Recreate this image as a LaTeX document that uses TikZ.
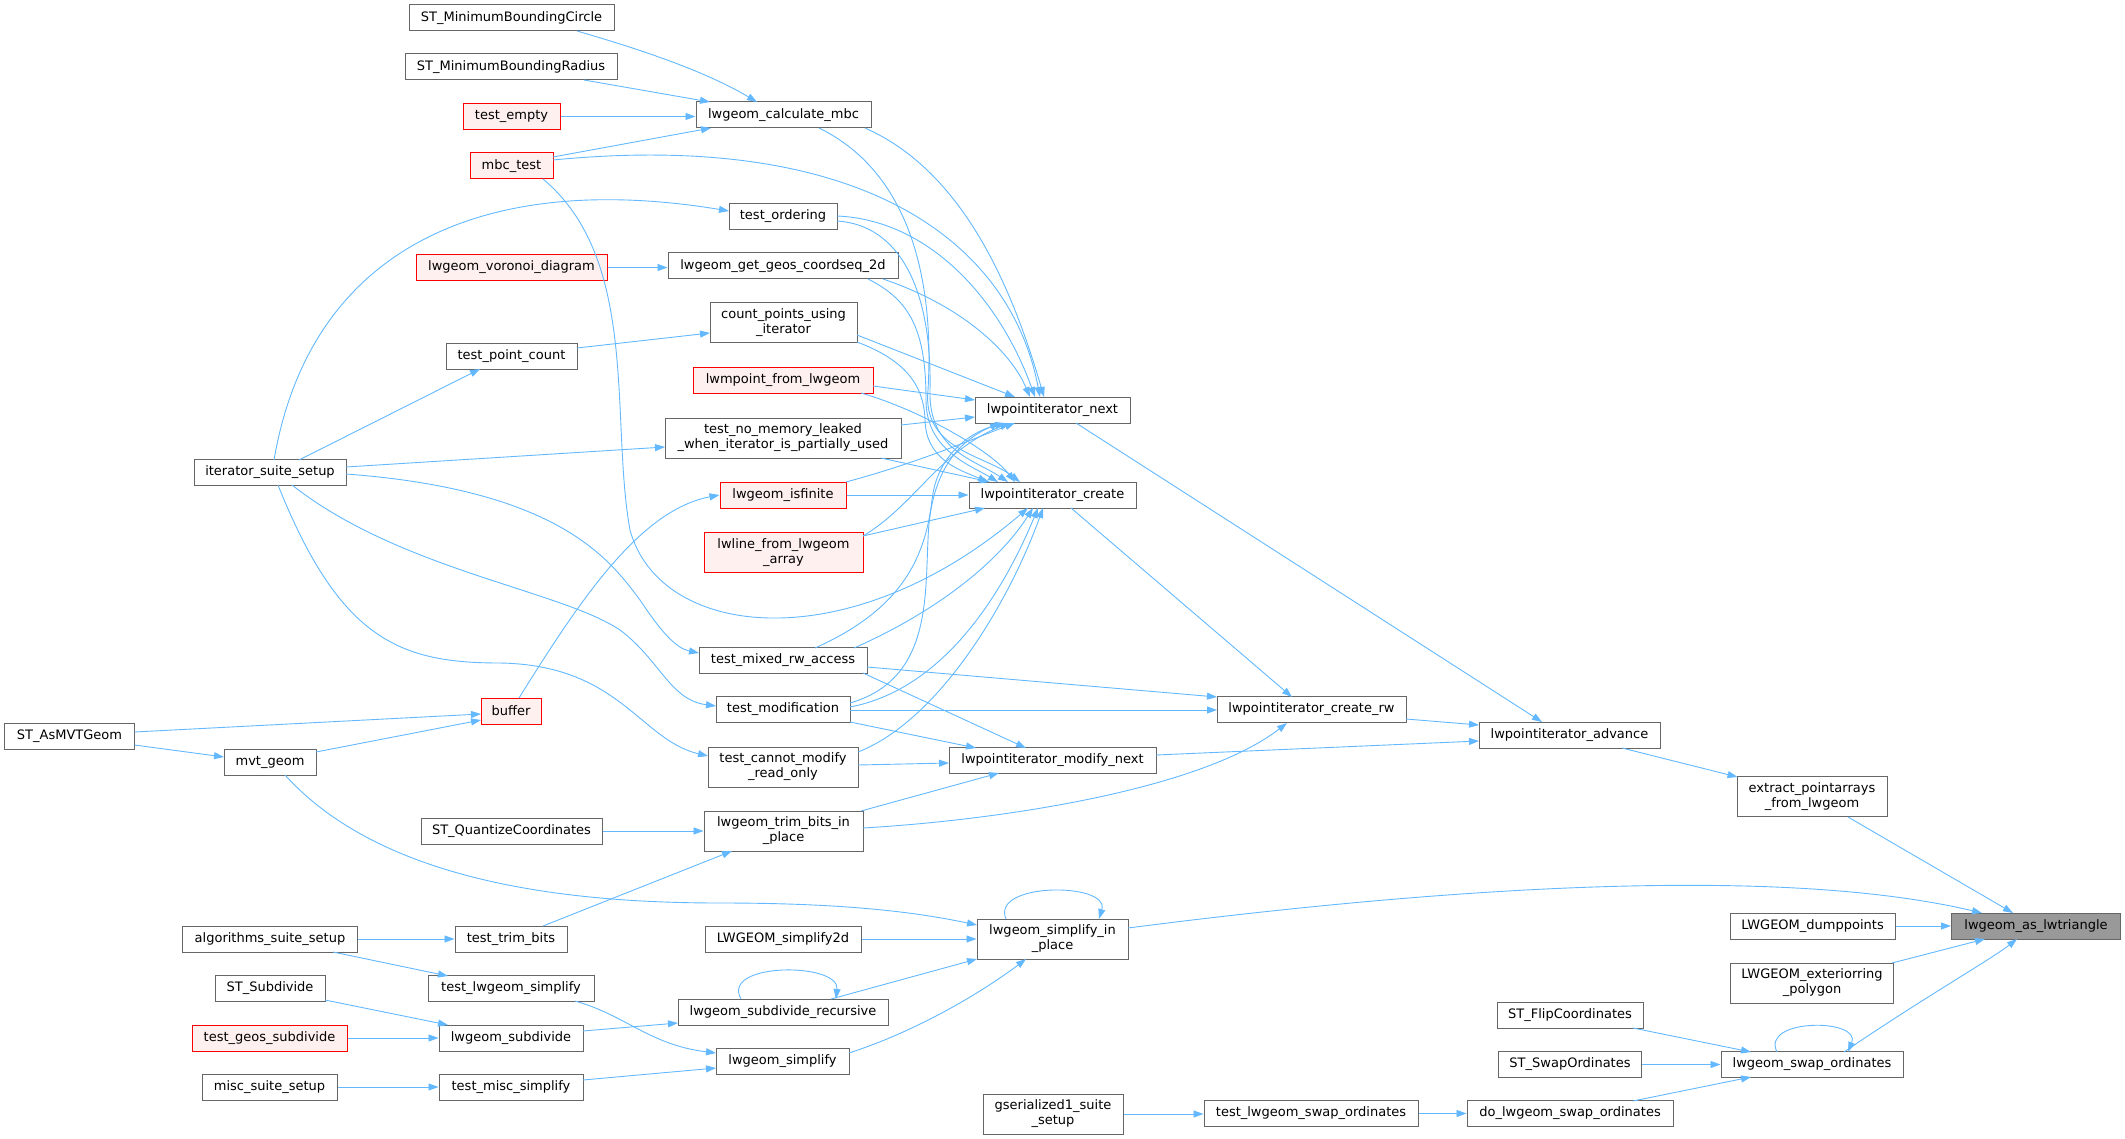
\documentclass[tikz,border=0pt]{standalone}
\usepackage{fontspec}
\setmainfont{DejaVu Sans}
\usetikzlibrary{arrows.meta}
\definecolor{edgeblue}{HTML}{63B8FF}
\definecolor{boxgray}{HTML}{666666}
\definecolor{redfill}{HTML}{FFF0F0}
\definecolor{hlfill}{HTML}{999999}
\begin{document}
\begin{tikzpicture}[x=1pt,y=-1pt,
  box/.style={draw=boxgray, fill=white, line width=1pt, inner sep=0pt, align=center,
    font=\fontsize{13}{15}\selectfont, minimum height=26pt},
  tall/.style={minimum height=40pt},
  redbox/.style={box, draw=red, fill=redfill},
  hlbox/.style={box, fill=hlfill},
  conn/.style={draw=edgeblue, line width=0.9pt, -{Triangle[length=10pt,width=7pt]}}]
\useasboundingbox (0,0) rectangle (2125,1139);
% column 1
\node[box, minimum width=130pt] (asmvt) at (69.5,736.5) {ST\_AsMVTGeom};
% column 2
\node[box, minimum width=152pt] (itersuite) at (270,472.5) {iterator\_suite\_setup};
\node[box, minimum width=92pt] (mvtgeom) at (270,762) {mvt\_geom};
\node[box, minimum width=175pt] (algsuite) at (270,939) {algorithms\_suite\_setup};
\node[box, minimum width=110pt] (stsubdivide) at (270,988.5) {ST\_Subdivide};
\node[redbox, minimum width=155pt] (geossubdiv) at (269.5,1038) {test\_geos\_subdivide};
\node[box, minimum width=135pt] (miscsuite) at (269.5,1087) {misc\_suite\_setup};
% column 3
\node[box, minimum width=205pt] (mbcircle) at (511.5,18) {ST\_MinimumBoundingCircle};
\node[box, minimum width=212pt] (mbradius) at (511,67) {ST\_MinimumBoundingRadius};
\node[redbox, minimum width=97pt] (testempty) at (511.5,116.5) {test\_empty};
\node[redbox, minimum width=83pt] (mbctest) at (511.5,166) {mbc\_test};
\node[redbox, minimum width=191pt] (voronoi) at (511.5,267.5) {lwgeom\_voronoi\_diagram};
\node[box, minimum width=131pt] (testpointcount) at (511.5,356.5) {test\_point\_count};
\node[redbox, minimum width=60pt] (buffer) at (511,711) {buffer};
\node[box, minimum width=181pt] (quantize) at (511.5,831) {ST\_QuantizeCoordinates};
\node[box, minimum width=112pt] (testtrimbits) at (511,939) {test\_trim\_bits};
\node[box, minimum width=166pt] (testlwsimplify) at (511,988.5) {test\_lwgeom\_simplify};
\node[box, minimum width=144pt] (lwsubdivide) at (511,1038) {lwgeom\_subdivide};
\node[box, minimum width=144pt] (testmisc) at (511,1087) {test\_misc\_simplify};
% column 4
\node[box, minimum width=175pt] (calcmbc) at (783.5,115) {lwgeom\_calculate\_mbc};
\node[box, minimum width=108pt] (testordering) at (783,216.5) {test\_ordering};
\node[box, minimum width=230pt] (coordseq) at (783,266) {lwgeom\_get\_geos\_coordseq\_2d};
\node[box, tall, minimum width=147pt] (countpoints) at (783.5,323) {count\_points\_using\\\_iterator};
\node[redbox, minimum width=180pt] (lwmpoint) at (783,380.5) {lwmpoint\_from\_lwgeom};
\node[box, tall, minimum width=236pt] (nomem) at (783,438) {test\_no\_memory\_leaked\\\_when\_iterator\_is\_partially\_used};
\node[redbox, minimum width=126pt] (isfinite) at (783,495) {lwgeom\_isfinite};
\node[redbox, tall, minimum width=159pt] (lwline) at (783.5,552.5) {lwline\_from\_lwgeom\\\_array};
\node[box, minimum width=168pt] (mixed) at (783,660.5) {test\_mixed\_rw\_access};
\node[box, minimum width=134pt] (modification) at (783,709.5) {test\_modification};
\node[box, tall, minimum width=150pt] (cannot) at (783,767) {test\_cannot\_modify\\\_read\_only};
\node[box, tall, minimum width=159pt] (trimip) at (783.5,831) {lwgeom\_trim\_bits\_in\\\_place};
\node[box, minimum width=156pt] (simplify2d) at (783,939) {LWGEOM\_simplify2d};
\node[box, minimum width=210pt] (subdivrec) at (783,1012) {lwgeom\_subdivide\_recursive};
\node[box, minimum width=133pt] (lwsimplify) at (782.5,1061.5) {lwgeom\_simplify};
% column 5
\node[box, minimum width=155pt] (next) at (1052.5,410) {lwpointiterator\_next};
\node[box, minimum width=167pt] (create) at (1052.5,495) {lwpointiterator\_create};
\node[box, minimum width=207pt] (modifynext) at (1052.5,760.5) {lwpointiterator\_modify\_next};
\node[box, tall, minimum width=151pt] (simplifyip) at (1052.5,939) {lwgeom\_simplify\_in\\\_place};
\node[box, tall, minimum width=140pt] (gserialized) at (1053,1114) {gserialized1\_suite\\\_setup};
% column 6
\node[box, minimum width=189pt] (createrw) at (1311.5,709.5) {lwpointiterator\_create\_rw};
\node[box, minimum width=214pt] (testswap) at (1311,1113.5) {test\_lwgeom\_swap\_ordinates};
% column 7
\node[box, minimum width=181pt] (advance) at (1569.5,735) {lwpointiterator\_advance};
\node[box, minimum width=146pt] (flip) at (1570,1015) {ST\_FlipCoordinates};
\node[box, minimum width=143pt] (stswap) at (1570,1064.5) {ST\_SwapOrdinates};
\node[box, minimum width=206pt] (doswap) at (1570,1113.5) {do\_lwgeom\_swap\_ordinates};
% column 8
\node[box, tall, minimum width=150pt] (extract) at (1812,796.5) {extract\_pointarrays\\\_from\_lwgeom};
\node[box, minimum width=165pt] (dumppoints) at (1812.5,926) {LWGEOM\_dumppoints};
\node[box, tall, minimum width=163pt] (exterior) at (1812,983) {LWGEOM\_exteriorring\\\_polygon};
\node[box, minimum width=182pt] (swap) at (1812,1064.5) {lwgeom\_swap\_ordinates};
% column 9
\node[hlbox, minimum width=169pt] (triangle) at (2036,926) {lwgeom\_as\_lwtriangle};

% ---- edges ----
\draw[conn] ([shift={(65.5,13)}]mbcircle.center) .. controls (625,45) and (700,68) .. ([shift={(-26.5,-13)}]calcmbc.center);
\draw[conn] ([shift={(73,13)}]mbradius.center) -- ([shift={(-73.5,-13)}]calcmbc.center);
\draw[conn] (testempty.east) -- (calcmbc.west |- testempty.east);
\draw[conn] ([shift={(41.5,-9)}]mbctest.center) -- ([shift={(-72.5,13)}]calcmbc.center);
\draw[conn] ([shift={(41.5,-6)}]mbctest.center) .. controls (860,130) and (1010,240) .. ([shift={(-12.5,-13)}]next.center);
\draw[conn] ([shift={(31.5,13)}]mbctest.center) .. controls (640,260) and (610,420) .. (630,530) .. controls (660,640) and (850,660) .. ([shift={(-24.5,13)}]create.center);
\draw[conn] ([shift={(81.5,13)}]calcmbc.center) .. controls (960,170) and (1010,280) .. ([shift={(-8.5,-13)}]next.center);
\draw[conn] ([shift={(35.5,13)}]calcmbc.center) .. controls (905,170) and (935,270) .. (928,390) .. controls (922,450) and (985,455) .. ([shift={(-32.5,-13)}]create.center);
\draw[conn] ([shift={(4,-12.5)}]itersuite.center) .. controls (310,250) and (480,170) .. ([shift={(-54,-5.5)}]testordering.center);
\draw[conn] ([shift={(29,-12.5)}]itersuite.center) -- ([shift={(-31.5,12.5)}]testpointcount.center);
\draw[conn] ([shift={(76,-5.5)}]itersuite.center) -- ([shift={(-118,9)}]nomem.center);
\draw[conn] ([shift={(76,1.5)}]itersuite.center) .. controls (560,490) and (610,560) .. (640,600) .. controls (660,630) and (675,648) .. ([shift={(-84,-7.5)}]mixed.center);
\draw[conn] ([shift={(22,12.5)}]itersuite.center) .. controls (400,570) and (560,590) .. (620,630) .. controls (660,660) and (670,700) .. ([shift={(-67,-3.5)}]modification.center);
\draw[conn] ([shift={(8,12.5)}]itersuite.center) .. controls (340,640) and (400,663) .. (500,663) .. controls (620,665) and (640,740) .. ([shift={(-75,-11)}]cannot.center);
\draw[conn] ([shift={(54,-0.5)}]testordering.center) .. controls (930,220) and (1000,300) .. ([shift={(-17.5,-13)}]next.center);
\draw[conn] ([shift={(54,4.5)}]testordering.center) .. controls (900,225) and (932,290) .. (930,390) .. controls (928,450) and (975,460) .. ([shift={(-44.5,-13)}]create.center);
\draw[conn] (voronoi.east) -- (coordseq.west |- voronoi.east);
\draw[conn] ([shift={(100,13)}]coordseq.center) .. controls (960,305) and (1010,350) .. ([shift={(-22.5,-13)}]next.center);
\draw[conn] ([shift={(85,13)}]coordseq.center) .. controls (910,300) and (926,330) .. (926,400) .. controls (926,450) and (970,465) .. ([shift={(-54.5,-13)}]create.center);
\draw[conn] ([shift={(65.5,-8.5)}]testpointcount.center) -- ([shift={(-73.5,10)}]countpoints.center);
\draw[conn] ([shift={(73.5,12)}]countpoints.center) -- ([shift={(-37.5,-13)}]next.center);
\draw[conn] ([shift={(73.5,19)}]countpoints.center) .. controls (905,360) and (924,385) .. (925,420) .. controls (926,460) and (960,470) .. ([shift={(-64.5,-13)}]create.center);
\draw[conn] ([shift={(90,5.5)}]lwmpoint.center) -- ([shift={(-77.5,-10)}]next.center);
\draw[conn] ([shift={(78,12.5)}]lwmpoint.center) .. controls (920,410) and (990,450) .. ([shift={(-37.5,-13)}]create.center);
\draw[conn] ([shift={(118,-13)}]nomem.center) -- ([shift={(-77.5,7)}]next.center);
\draw[conn] ([shift={(98,20)}]nomem.center) -- ([shift={(-62.5,-13)}]create.center);
\draw[conn] ([shift={(63,-13)}]isfinite.center) .. controls (920,462) and (970,440) .. ([shift={(-37.5,13)}]next.center);
\draw[conn] (isfinite.east) -- (create.west);
\draw[conn] ([shift={(79.5,-16.5)}]lwline.center) .. controls (915,505) and (940,450) .. ([shift={(-42.5,13)}]next.center);
\draw[conn] ([shift={(79.5,-16.5)}]lwline.center) -- ([shift={(-67.5,13)}]create.center);
\draw[conn] ([shift={(32,-12.5)}]mixed.center) .. controls (900,610) and (925,560) .. (932,500) .. controls (937,455) and (970,432) .. ([shift={(-47.5,13)}]next.center);
\draw[conn] ([shift={(71,-12.5)}]mixed.center) .. controls (940,610) and (1000,560) .. ([shift={(-19.5,13)}]create.center);
\draw[conn] ([shift={(84,6.5)}]mixed.center) -- ([shift={(-94.5,-12.5)}]createrw.center);
\draw[conn] ([shift={(80,12.5)}]mixed.center) -- ([shift={(-26.5,-12.5)}]modifynext.center);
\draw[conn] ([shift={(67,-6.5)}]modification.center) .. controls (930,680) and (925,600) .. (928,540) .. controls (930,470) and (960,440) .. ([shift={(-52.5,13)}]next.center);
\draw[conn] ([shift={(67,-2.5)}]modification.center) .. controls (940,690) and (1000,600) .. ([shift={(-14.5,13)}]create.center);
\draw[conn] ([shift={(67,0.5)}]modification.center) -- ([shift={(-94.5,0.5)}]createrw.center);
\draw[conn] ([shift={(67,12.5)}]modification.center) -- ([shift={(-76.5,-12.5)}]modifynext.center);
\draw[conn] ([shift={(75,-15)}]cannot.center) .. controls (940,720) and (1010,600) .. ([shift={(-9.5,13)}]create.center);
\draw[conn] ([shift={(75,-2)}]cannot.center) -- ([shift={(-103.5,2.5)}]modifynext.center);
\draw[conn] ([shift={(8,-13)}]buffer.center) .. controls (580,600) and (640,510) .. (isfinite.west);
\draw[conn] ([shift={(65,-4.5)}]asmvt.center) -- ([shift={(-30,3)}]buffer.center);
\draw[conn] ([shift={(65,8.5)}]asmvt.center) -- ([shift={(-46,-5)}]mvtgeom.center);
\draw[conn] ([shift={(46,-10)}]mvtgeom.center) -- ([shift={(-30,9)}]buffer.center);
\draw[conn] ([shift={(15,13)}]mvtgeom.center) .. controls (380,880) and (560,903) .. (720,903) .. controls (850,903) and (920,913) .. ([shift={(-75.5,-14)}]simplifyip.center);
\draw[conn] ([shift={(18.5,13)}]create.center) -- ([shift={(-19.5,-12.5)}]createrw.center);
\draw[conn] ([shift={(23.5,13)}]next.center) -- ([shift={(-27.5,-13)}]advance.center);
\draw[conn] ([shift={(94.5,9.5)}]createrw.center) -- ([shift={(-90.5,-10)}]advance.center);
\draw[conn] ([shift={(103.5,-5.5)}]modifynext.center) -- ([shift={(-90.5,6)}]advance.center);
\draw[conn] (quantize.east) -- (trimip.west);
\draw[conn] ([shift={(77.5,-20)}]trimip.center) -- ([shift={(-53.5,12.5)}]modifynext.center);
\draw[conn] ([shift={(79.5,-3)}]trimip.center) .. controls (1000,820) and (1200,790) .. ([shift={(-24.5,13.5)}]createrw.center);
\draw[conn] ([shift={(32,-13)}]testtrimbits.center) -- ([shift={(-51.5,20)}]trimip.center);
\draw[conn] (algsuite.east) -- (testtrimbits.west);
\draw[conn] ([shift={(63,13)}]algsuite.center) -- ([shift={(-63,-12.5)}]testlwsimplify.center);
\draw[conn] ([shift={(64,12.5)}]testlwsimplify.center) .. controls (625,1015) and (650,1045) .. ([shift={(-66.5,-8.5)}]lwsimplify.center);
\draw[conn] ([shift={(55,11.5)}]stsubdivide.center) -- ([shift={(-63,-13)}]lwsubdivide.center);
\draw[conn] (geossubdiv.east) -- (lwsubdivide.west);
\draw[conn] (miscsuite.east) -- (testmisc.west);
\draw[conn] ([shift={(72,-7)}]testmisc.center) -- ([shift={(-66.5,6.5)}]lwsimplify.center);
\draw[conn] ([shift={(72,-7)}]lwsubdivide.center) -- ([shift={(-105,11)}]subdivrec.center);
\draw[conn] ([shift={(-42,-13)}]subdivrec.center) .. controls (720,962) and (840,962) .. ([shift={(53,-13)}]subdivrec.center);
\draw[conn] ([shift={(48,-13)}]subdivrec.center) -- ([shift={(-75.5,20)}]simplifyip.center);
\draw[conn] ([shift={(66.5,-8.5)}]lwsimplify.center) .. controls (920,1030) and (985,990) .. ([shift={(-26.5,20)}]simplifyip.center);
\draw[conn] (simplify2d.east) -- (simplifyip.west);
\draw[conn] ([shift={(-46.5,-20)}]simplifyip.center) .. controls (990,882) and (1110,882) .. ([shift={(46.5,-20)}]simplifyip.center);
\draw[conn] ([shift={(75.5,-11)}]simplifyip.center) .. controls (1500,880) and (1800,870) .. ([shift={(-54,-13)}]triangle.center);
\draw[conn] ([shift={(52.5,13)}]advance.center) -- ([shift={(-74.5,-19.5)}]extract.center);
\draw[conn] ([shift={(36,20.5)}]extract.center) -- ([shift={(-23,-13)}]triangle.center);
\draw[conn] (dumppoints.east) -- (triangle.west);
\draw[conn] ([shift={(80,-20)}]exterior.center) -- ([shift={(-51,13)}]triangle.center);
\draw[conn] ([shift={(32,-12.5)}]swap.center) .. controls (1920,1000) and (1990,960) .. ([shift={(-19,13)}]triangle.center);
\draw[conn] ([shift={(-35,-12.5)}]swap.center) .. controls (1760,1018) and (1862,1018) .. ([shift={(36,-12.5)}]swap.center);
\draw[conn] ([shift={(63,13)}]flip.center) -- ([shift={(-61,-12.5)}]swap.center);
\draw[conn] (stswap.east) -- (swap.west);
\draw[conn] ([shift={(63,-12.5)}]doswap.center) -- ([shift={(-61,12.5)}]swap.center);
\draw[conn] (testswap.east) -- (doswap.west);
\draw[conn] (gserialized.east) -- (testswap.west |- gserialized.east);
\end{tikzpicture}
\end{document}
